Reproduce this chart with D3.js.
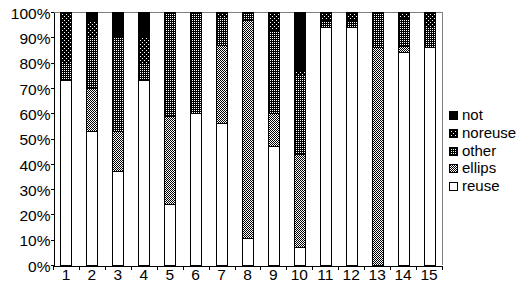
<!DOCTYPE html>
<html>
<head>
<meta charset="utf-8">
<script src="https://cdn.jsdelivr.net/npm/d3@7"></script>
<style>
  body { margin: 0; background: #fff; }
  text { font-family: "Liberation Sans", Arial, sans-serif; fill: #000; }
</style>
</head>
<body>
<div id="chart"></div>
<script>
// data, percent of each question (bottom to top: reuse, ellips, other, noreuse, not)
const categories = ["1","2","3","4","5","6","7","8","9","10","11","12","13","14","15"];
const reuse   = [73, 53, 37, 73, 24, 60, 56, 10.5, 47, 7,   94, 94, 0,  84,  86];
const ellips  = [0,  17, 16, 0,  35, 0,  31, 86.5, 13, 37,  0,  0,  86, 2.5, 0];
const other   = [7,  20, 37, 7,  41, 40, 11, 3,    33, 31,  3,  3,  14, 11,  8];
const noreuse = [20, 7,  0,  10, 0,  0,  2,  0,    7,  1.5, 3,  3,  0,  2.5, 6];
const not     = [0,  3,  10, 10, 0,  0,  0,  0,    0,  23.5,0,  0,  0,  0,   0];
const seriesNames = ["reuse", "ellips", "other", "noreuse", "not"];
const yTicks = [0, 10, 20, 30, 40, 50, 60, 70, 80, 90, 100];

const width = 532, height = 288;
const margin = {left: 53, right: 90, top: 12, bottom: 23};

const svg = d3.select("#chart").append("svg")
    .attr("width", width)
    .attr("height", height);

// fill patterns
const defs = svg.append("defs");

let p = defs.append("pattern").attr("id", "pat-ellips")
    .attr("patternUnits", "userSpaceOnUse").attr("width", 2).attr("height", 2);
p.append("rect").attr("width", 2).attr("height", 2).attr("fill", "#fff");
p.append("rect").attr("width", 1).attr("height", 1).attr("fill", "#000");
p.append("rect").attr("x", 1).attr("y", 1).attr("width", 1).attr("height", 1).attr("fill", "#000");

p = defs.append("pattern").attr("id", "pat-other")
    .attr("patternUnits", "userSpaceOnUse").attr("width", 2).attr("height", 2);
p.append("rect").attr("width", 2).attr("height", 2).attr("fill", "#000");
p.append("rect").attr("width", 1).attr("height", 1).attr("fill", "#fff");

p = defs.append("pattern").attr("id", "pat-noreuse")
    .attr("patternUnits", "userSpaceOnUse").attr("width", 4).attr("height", 4);
p.append("rect").attr("width", 4).attr("height", 4).attr("fill", "#000");
p.append("rect").attr("width", 1).attr("height", 1).attr("fill", "#fff");
p.append("rect").attr("x", 2).attr("y", 2).attr("width", 1).attr("height", 1).attr("fill", "#fff");

const fills = {
    reuse: "#fff",
    ellips: "url(#pat-ellips)",
    other: "url(#pat-other)",
    noreuse: "url(#pat-noreuse)",
    not: "#000"
};

// scales
const x = d3.scaleBand()
    .domain(categories)
    .range([margin.left, width - margin.right])
    .padding(0);

const y = d3.scaleLinear()
    .domain([0, 100])
    .range([height - margin.bottom, margin.top]);

// stacked data
const table = categories.map((c, i) => ({
    cat: c,
    reuse: reuse[i], ellips: ellips[i], other: other[i], noreuse: noreuse[i], not: not[i]
}));
const stacked = d3.stack().keys(seriesNames)(table);

// plot frame (gray top and right)
svg.append("path")
    .attr("d", `M${x.range()[0]},${y(100) + 0.5}H${x.range()[1] + 0.5}V${y(0)}`)
    .attr("fill", "none")
    .attr("stroke", "#808080")
    .attr("shape-rendering", "crispEdges");

// bars
const barW = Math.round(x.bandwidth() * 0.42);
svg.append("g").selectAll("g")
    .data(stacked)
    .enter().append("g")
    .attr("fill", d => fills[d.key])
    .selectAll("rect")
    .data(d => d.filter(s => s[1] - s[0] > 0))
    .enter().append("rect")
    .attr("x", d => Math.round(x(d.data.cat) + x.bandwidth() / 2 - barW / 2) + 0.5)
    .attr("y", d => Math.round(y(d[1])) + 0.5)
    .attr("width", barW)
    .attr("height", d => Math.round(y(d[0])) - Math.round(y(d[1])))
    .attr("stroke", "#000")
    .attr("stroke-width", 1)
    .attr("shape-rendering", "crispEdges");

// y axis
const yAxis = svg.append("g")
    .attr("transform", `translate(${margin.left + 0.5},0)`)
    .call(d3.axisLeft(y)
        .tickValues(yTicks)
        .tickSize(3)
        .tickSizeOuter(0)
        .tickPadding(0)
        .tickFormat(d => d + "%"));
yAxis.selectAll("line, path").attr("stroke", "#000").attr("shape-rendering", "crispEdges");
yAxis.selectAll("text")
    .attr("font-size", "15.5px")
    .attr("font-family", "Liberation Sans, Arial, sans-serif")
    .attr("dy", "0.4em");

// x axis: labels centered, ticks at category boundaries
const xAxis = svg.append("g")
    .attr("transform", `translate(0,${y(0) + 0.5})`)
    .call(d3.axisBottom(x).tickSize(0).tickSizeOuter(0).tickPadding(3));
xAxis.select(".domain").attr("stroke", "#000").attr("shape-rendering", "crispEdges");
xAxis.selectAll("text")
    .attr("font-size", "15.5px")
    .attr("font-family", "Liberation Sans, Arial, sans-serif")
    .attr("dy", "0.72em");

const bounds = categories.map(c => x(c)).concat([x.range()[1]]);
xAxis.selectAll(".bound")
    .data(bounds)
    .enter().append("line")
    .attr("class", "bound")
    .attr("x1", d => Math.round(d) + 0.5)
    .attr("x2", d => Math.round(d) + 0.5)
    .attr("y1", 0)
    .attr("y2", 4)
    .attr("stroke", "#000")
    .attr("shape-rendering", "crispEdges");

// legend, top entry = top of stack
const legendItems = seriesNames.slice().reverse();
const legend = svg.append("g")
    .attr("transform", "translate(449,115)");

const li = legend.selectAll("g")
    .data(legendItems)
    .enter().append("g")
    .attr("transform", (d, i) => `translate(0,${Math.round(i * 17.8)})`);

li.append("rect")
    .attr("x", 0.5)
    .attr("y", -3.5)
    .attr("width", 8)
    .attr("height", 8)
    .attr("fill", d => fills[d])
    .attr("stroke", "#000")
    .attr("shape-rendering", "crispEdges");

li.append("text")
    .attr("x", 13)
    .attr("y", 0)
    .attr("dy", "0.35em")
    .attr("font-size", "15px")
    .text(d => d);
</script>
</body>
</html>
